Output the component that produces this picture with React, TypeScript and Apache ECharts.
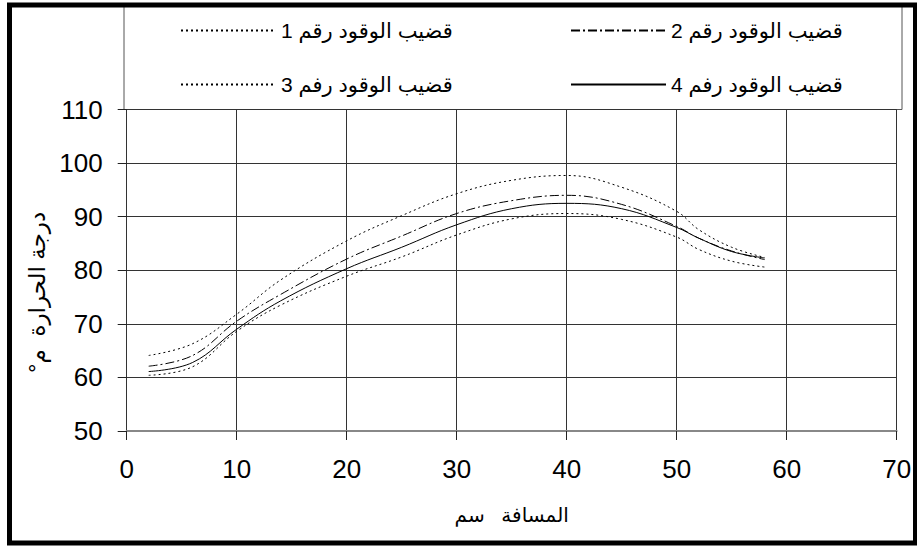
import React, { useEffect, useRef } from "react";
import * as echarts from "echarts";

const distances = [2, 6, 10, 14, 20, 25, 30, 35, 40, 45, 50, 52, 55, 58];
const rod1 = [64.1, 66.3, 71.8, 78.2, 85.5, 90.2, 94.3, 96.8, 97.7, 95.5, 91.0, 87.6, 84.3, 82.4];
const rod2 = [62.1, 64.1, 70.5, 75.5, 82.1, 86.4, 90.6, 93.0, 94.0, 92.3, 88.2, 86.0, 83.6, 82.0];
const rod3 = [60.4, 62.0, 68.6, 73.5, 78.9, 82.5, 86.6, 89.6, 90.6, 89.5, 86.2, 83.9, 81.7, 80.6];
const rod4 = [61.1, 62.8, 69.0, 74.3, 80.3, 84.3, 88.5, 91.5, 92.5, 91.5, 88.0, 86.0, 83.5, 82.3];

const seriesNames = [
  "قضيب الوقود رقم 1",
  "قضيب الوقود رقم 2",
  "قضيب الوقود رفم 3",
  "قضيب الوقود رفم 4",
];
const xAxisName = "المسافة   سم";
const yAxisName = "°درجة الحرارة  م";

const FONT = "'Liberation Sans', Arial, 'DejaVu Sans', sans-serif";

function pairs(xs: number[], ys: number[]) {
  return xs.map((x, i) => [x, ys[i]]);
}

export default function App() {
  const ref = useRef<HTMLDivElement>(null);
  useEffect(() => {
    if (!ref.current) return;
    const chart = echarts.init(ref.current, undefined, { renderer: "svg" });
    const lineSeries = (name: string, data: number[], type: any) => ({
      name,
      type: "line",
      data: pairs(distances, data),
      smooth: 0.4,
      symbol: "none",
      showSymbol: false,
      lineStyle: { color: "#000", width: 1, type },
      itemStyle: { color: "#000" },
    });
    const legendCommon = {
      orient: "vertical",
      top: 20,
      itemWidth: 95,
      itemHeight: 10,
      itemGap: 33,
      padding: 0,
      itemStyle: { opacity: 0 },
      textStyle: { fontSize: 21, fontFamily: FONT, color: "#000" },
    };
    chart.setOption({
      animation: false,
      backgroundColor: "#fff",
      grid: { left: 126.7, right: 20.3, top: 109.6, bottom: 117, containLabel: false },
      legend: [
        { ...legendCommon, left: 180, data: [seriesNames[0], seriesNames[2]] },
        { ...legendCommon, left: 570, data: [seriesNames[1], seriesNames[3]] },
      ],
      xAxis: {
        type: "value",
        min: 0,
        max: 70,
        interval: 10,
        name: xAxisName,
        nameLocation: "middle",
        nameGap: 74,
        nameTextStyle: { fontSize: 20, fontFamily: FONT, color: "#000" },
        axisLine: { show: true, lineStyle: { color: "#888", width: 2 } },
        axisTick: { show: true, length: 9, lineStyle: { color: "#222" } },
        axisLabel: { fontSize: 26, fontFamily: FONT, color: "#000", margin: 25 },
        splitLine: { show: true, lineStyle: { color: "#333", width: 1 } },
      },
      yAxis: {
        type: "value",
        min: 50,
        max: 110,
        interval: 10,
        name: yAxisName,
        nameLocation: "middle",
        nameRotate: 90,
        nameGap: 76,
        nameTextStyle: { fontSize: 23, fontFamily: FONT, color: "#000", padding: [0, 44, 0, 0] },
        axisLine: { show: true, lineStyle: { color: "#333", width: 1 } },
        axisTick: { show: true, length: 9, lineStyle: { color: "#222" } },
        axisLabel: { fontSize: 26, fontFamily: FONT, color: "#000", margin: 24 },
        splitLine: { show: true, lineStyle: { color: "#333", width: 1 } },
      },
      graphic: [
        {
          type: "rect",
          shape: { x: 124, y: 5, width: 778, height: 104.5 },
          style: { fill: "none", stroke: "#555", lineWidth: 1 },
          silent: true,
        },
        {
          type: "rect",
          shape: { x: 9.5, y: 5, width: 906, height: 538 },
          style: { fill: "none", stroke: "#000", lineWidth: 5 },
          silent: true,
        },
      ],
      series: [
        lineSeries(seriesNames[0], rod1, [2, 3]),
        lineSeries(seriesNames[1], rod2, [9, 3, 2, 3]),
        lineSeries(seriesNames[2], rod3, [2, 3]),
        lineSeries(seriesNames[3], rod4, "solid"),
      ],
    });
    return () => chart.dispose();
  }, []);
  return (
    <div
      ref={ref}
      style={{ position: "fixed", left: 0, top: 0, width: 917, height: 548, background: "#fff" }}
    />
  );
}
